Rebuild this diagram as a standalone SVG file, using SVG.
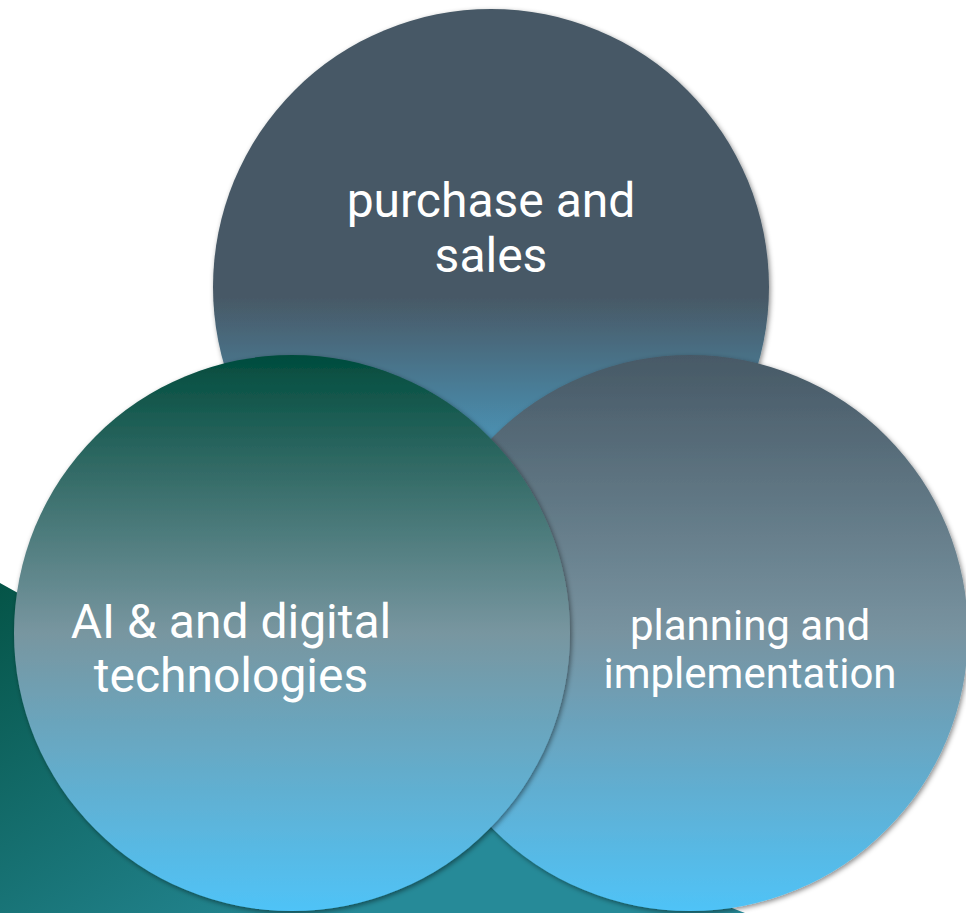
<svg xmlns="http://www.w3.org/2000/svg" width="966" height="913" viewBox="0 0 966 913">
  <defs>
    <linearGradient id="gTeal" gradientUnits="userSpaceOnUse" x1="0" y1="583" x2="250" y2="980">
      <stop offset="0" stop-color="#055447"/>
      <stop offset="1" stop-color="#268a98"/>
    </linearGradient>
    <linearGradient id="gTop" x1="0" y1="0" x2="0" y2="1">
      <stop offset="0" stop-color="#475966"/>
      <stop offset="0.52" stop-color="#475966"/>
      <stop offset="1" stop-color="#4fc3f7"/>
    </linearGradient>
    <linearGradient id="gLeft" x1="0" y1="0" x2="0" y2="1">
      <stop offset="0" stop-color="#014c3d"/>
      <stop offset="0.5" stop-color="#7896a0"/>
      <stop offset="1" stop-color="#4fc3f7"/>
    </linearGradient>
    <linearGradient id="gRight" x1="0" y1="0" x2="0" y2="1">
      <stop offset="0" stop-color="#475966"/>
      <stop offset="0.5" stop-color="#7893a0"/>
      <stop offset="1" stop-color="#4fc3f7"/>
    </linearGradient>
    <filter id="shadow" x="-10%" y="-10%" width="120%" height="120%">
      <feDropShadow dx="1.5" dy="2" stdDeviation="2.5" flood-color="#000" flood-opacity="0.45"/>
    </filter>
  </defs>
  <style>
    .lbl { font-family: Roboto, "Liberation Sans", sans-serif; fill: #ffffff; text-anchor: middle; }
    .circ { filter: url(#shadow); }
  </style>
  <rect width="966" height="913" fill="#ffffff"/>
  <g id="background">
    <polygon points="0,583 260,728 745,913 0,913" fill="url(#gTeal)"/>
  </g>
  <g id="node-purchase">
    <circle class="circ" cx="491" cy="287" r="278" fill="url(#gTop)"/>
    <text class="lbl" font-size="48" x="491" y="217">purchase and</text>
    <text class="lbl" font-size="48" x="491" y="272">sales</text>
  </g>
  <g id="node-planning">
    <circle class="circ" cx="690" cy="633" r="278" fill="url(#gRight)"/>
    <text class="lbl" font-size="42" x="750" y="640">planning and</text>
    <text class="lbl" font-size="42" x="750" y="688">implementation</text>
  </g>
  <g id="node-ai">
    <circle class="circ" cx="292" cy="633" r="278" fill="url(#gLeft)"/>
    <text class="lbl" font-size="48" x="231" y="638">AI &amp; and digital</text>
    <text class="lbl" font-size="48" x="231" y="692">technologies</text>
  </g>
  <g id="connectors"/>
</svg>
